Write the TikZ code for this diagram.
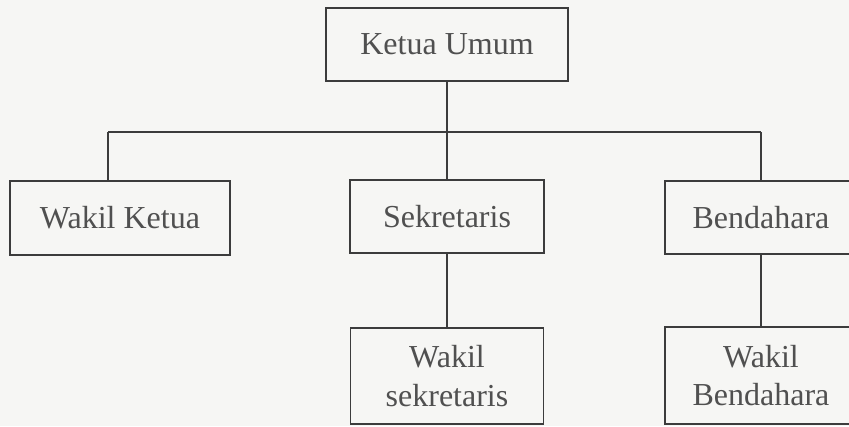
\documentclass[tikz,border=0pt]{standalone}
\usepackage{fontspec}
\setmainfont{Liberation Serif}
\definecolor{linec}{HTML}{3C3C3C}
\definecolor{textc}{HTML}{505050}
\definecolor{paper}{HTML}{F6F6F4}
\begin{document}
\begin{tikzpicture}[x=1pt,y=-1pt,
  box/.style={draw=linec, line width=1.5pt, inner sep=0pt, align=center,
    text=textc, font=\fontsize{32}{38.5}\selectfont},
  link/.style={draw=linec, line width=1.5pt}]
\useasboundingbox (0,0) rectangle (849,426);
\fill[paper] (0,0) rectangle (849,426);
\clip (0,0) rectangle (849,426);
\node[box, minimum width=242pt, minimum height=73pt] (ku) at (447,44.5) {Ketua Umum};
\node[box, minimum width=220pt, minimum height=74pt] (wk) at (120,218) {Wakil Ketua};
\node[box, minimum width=194pt, minimum height=73pt] (sk) at (447,216.5) {Sekretaris};
\node[box, minimum width=192pt, minimum height=73pt] (bd) at (761,217.5) {Bendahara};
\node[box, minimum width=193pt, minimum height=96pt] (ws) at (447,376) {Wakil\\sekretaris};
\node[box, minimum width=192pt, minimum height=97pt] (wb) at (761,375.5) {Wakil\\Bendahara};
\coordinate (bl) at (108,132);
\coordinate (bm) at (447,132);
\coordinate (br) at (761,132);
\draw[link] (ku.south) -- (bm);
\draw[link] (bl) -- (br);
\draw[link] (bl) -- (bl |- wk.north);
\draw[link] (bm) -- (sk.north);
\draw[link] (br) -- (bd.north);
\draw[link] (sk.south) -- (ws.north);
\draw[link] (bd.south) -- (wb.north);
\end{tikzpicture}
\end{document}
